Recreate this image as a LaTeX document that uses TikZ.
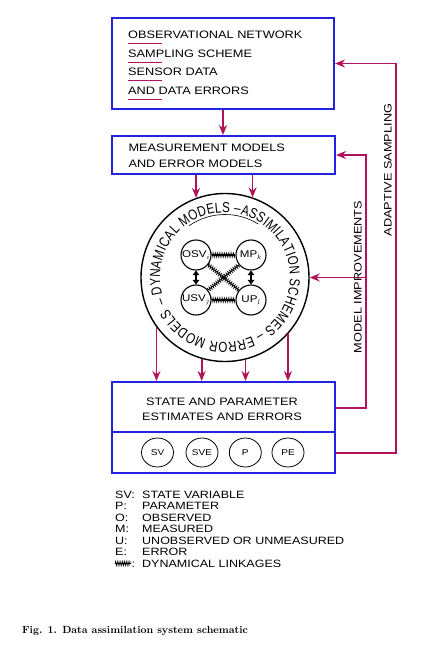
\documentclass[tikz,border=0pt]{standalone}
\usepackage{fontspec}
\newfontfamily\hv{Liberation Sans}[FakeStretch=1.18]
\newfontfamily\ringfont{Liberation Sans}[FakeStretch=0.8]
\usetikzlibrary{arrows.meta,decorations.text,decorations.pathmorphing,shapes.geometric}
\definecolor{myred}{RGB}{178,18,92}
\definecolor{myblue}{RGB}{35,35,225}
\begin{document}
\begin{tikzpicture}[x=1pt,y=-1pt,
  bluebox/.style={draw=myblue, line width=2pt, rectangle, inner sep=0pt},
  lbl/.style={font=\hv\fontsize{10.8}{12}\selectfont, inner sep=0pt, anchor=base west},
  lg/.style={font=\hv\fontsize{10.6}{12}\selectfont, inner sep=0pt, anchor=base west},
  uline/.style={draw=myred, line width=0.9pt},
  redline/.style={draw=myred, line width=1.8pt},
  redarrow/.style={redline, -{Stealth[length=10pt,width=8pt]}},
  inn/.style={circle, draw, line width=1.1pt, minimum size=30pt, inner sep=0pt, font=\hv\fontsize{9.8}{10}\selectfont},
  sm/.style={ellipse, draw, line width=0.8pt, minimum width=32pt, minimum height=29pt, inner sep=0pt, font=\hv\fontsize{8.5}{10}\selectfont},
  linkage/.style={line width=1.3pt, postaction={draw, line width=0.5pt, decorate, decoration={zigzag, segment length=1.8pt, amplitude=2.3pt}}},
  dlink/.style={line width=0.5pt, postaction={draw, line width=0.5pt, decorate, decoration={zigzag, segment length=2.2pt, amplitude=2pt}}},
  vlink/.style={line width=2.4pt, {Triangle[width=6.5pt,length=4.5pt]}-{Triangle[width=6.5pt,length=4.5pt]}}
]
\useasboundingbox (0,0) rectangle (430,652);
\fill[white] (0,0) rectangle (430,652);

% boxes
\node[bluebox, minimum width=222pt, minimum height=91pt] (b1) at (223,63.5) {};
\node[bluebox, minimum width=223pt, minimum height=38pt] (b2) at (223.5,155) {};
\node[bluebox, minimum width=223pt, minimum height=91pt] (b3) at (223.5,427.5) {};
\coordinate (div) at (0,432);
\draw[myblue, line width=2pt] (b3.west |- div) -- (b3.east |- div);

% box 1 text
\node[lbl] (t11) at (128,38.3) {OBSERVATIONAL NETWORK};
\node[lbl] (t12) at (128,57.3) {SAMPLING SCHEME};
\node[lbl] (t13) at (128,76) {SENSOR DATA};
\node[lbl] (t14) at (128,95) {AND DATA ERRORS};
\draw[uline] ([yshift=-4.7pt]t11.base west) -- ++(34,0);
\draw[uline] ([yshift=-4.7pt]t12.base west) -- ++(34,0);
\draw[uline] ([yshift=-4.7pt]t13.base west) -- ++(34,0);
\draw[uline] ([yshift=-4.7pt]t14.base west) -- ++(34,0);

% box 2 text
\node[lbl] (t21) at (128.3,151.7) {MEASUREMENT MODELS};
\node[lbl] (t22) at (128.3,167.3) {AND ERROR MODELS};

% box 3 text
\node[lbl, anchor=base] (t31) at (222,405) {STATE AND PARAMETER};
\node[lbl, anchor=base] (t32) at (222,420) {ESTIMATES AND ERRORS};
\node[sm] (sv) at (157.5,452.5) {SV};
\node[sm] (sve) at (202,452.5) {SVE};
\node[sm] (p) at (245.3,452.5) {P};
\node[sm] (pe) at (288,452.5) {PE};

% ring
\node[circle, draw, line width=1.4pt, minimum size=168pt, inner sep=0pt] (ring) at (225,277.5) {};
\path[decorate, decoration={text along path, text align=fit to path,
  text format delimiters={|}{|},
  text={|\ringfont\fontsize{14.5}{16}\selectfont|– DYNAMICAL MODELS –ASSIMILATION SCHEMES – ERROR MODELS}}]
  (ring.center) ++(204:65pt) arc[start angle=204, end angle=-151, radius=65pt];
\draw[line width=0.6pt] (ring.center) ++(125:63pt) arc[start angle=125, end angle=58, radius=63pt];

% inner nodes
\node[inn] (osv) at (196,255) {OSV$_i$};
\node[inn] (mp) at (251,255) {MP$_k$};
\node[inn] (usv) at (196,300) {USV$_j$};
\node[inn] (up) at (251,300) {UP$_l$};
\draw[linkage] (osv) -- (mp);
\draw[linkage] (usv) -- (up);
\draw[dlink] (osv) -- (up);
\draw[dlink] (usv) -- (mp);
\draw[vlink] (osv) -- (usv);
\draw[vlink] (mp) -- (up);

% arrows
\draw[redarrow] (b1.south) -- (b1.south |- b2.north);
\draw[redarrow] (ring.110 |- b2.south) -- (ring.110);
\draw[redarrow] (ring.71 |- b2.south) -- (ring.71);
\draw[redarrow] (ring.216) -- (ring.216 |- b3.north);
\draw[redarrow] (ring.254) -- (ring.254 |- b3.north);
\draw[redarrow] (ring.284) -- (ring.284 |- b3.north);
\draw[redarrow] (ring.318.6) -- (ring.318.6 |- b3.north);

% feedback loops
\coordinate (mi) at (366,0);
\coordinate (as) at (396,0);
\coordinate (miy) at (0,408);
\coordinate (asy) at (0,453);
\draw[redarrow] (b3.east |- miy) -- (mi |- miy) -- (mi |- b2.east) -- (b2.east);
\draw[redarrow] (mi |- ring.east) -- (ring.east);
\draw[redarrow] (b3.east |- asy) -- (as |- asy) -- (as |- b1.east) -- (b1.east);
\node[font=\hv\fontsize{10.8}{12}\selectfont, rotate=90, inner sep=0pt] (lmi) at (358,277) {MODEL IMPROVEMENTS};
\node[font=\hv\fontsize{10.8}{12}\selectfont, rotate=90, inner sep=0pt] (las) at (388,170) {ADAPTIVE SAMPLING};

% legend
\node[lg] (k1) at (115,498.3) {SV:};
\node[lg] (v1) at (142,498.3) {STATE VARIABLE};
\node[lg] (k2) at (115,509.6) {P:};
\node[lg] (v2) at (142,509.6) {PARAMETER};
\node[lg] (k3) at (115,521) {O:};
\node[lg] (v3) at (142,521) {OBSERVED};
\node[lg] (k4) at (115,532.7) {M:};
\node[lg] (v4) at (142,532.7) {MEASURED};
\node[lg] (k5) at (115,544.3) {U:};
\node[lg] (v5) at (142,544.3) {UNOBSERVED OR UNMEASURED};
\node[lg] (k6) at (115,555.8) {E:};
\node[lg] (v6) at (142,555.8) {ERROR};
\coordinate (lk1) at (115,563.5);
\coordinate (lk2) at (131,563.5);
\draw[linkage] (lk1) -- (lk2);
\node[lg] (k7) at (131.5,567.3) {:};
\node[lg] (v7) at (142,567.3) {DYNAMICAL LINKAGES};

% caption
\node[anchor=base west, inner sep=0pt, font=\bfseries\fontsize{10.4}{12}\selectfont] (cap) at (22,633) {Fig. 1. Data assimilation system schematic};
\end{tikzpicture}
\end{document}
